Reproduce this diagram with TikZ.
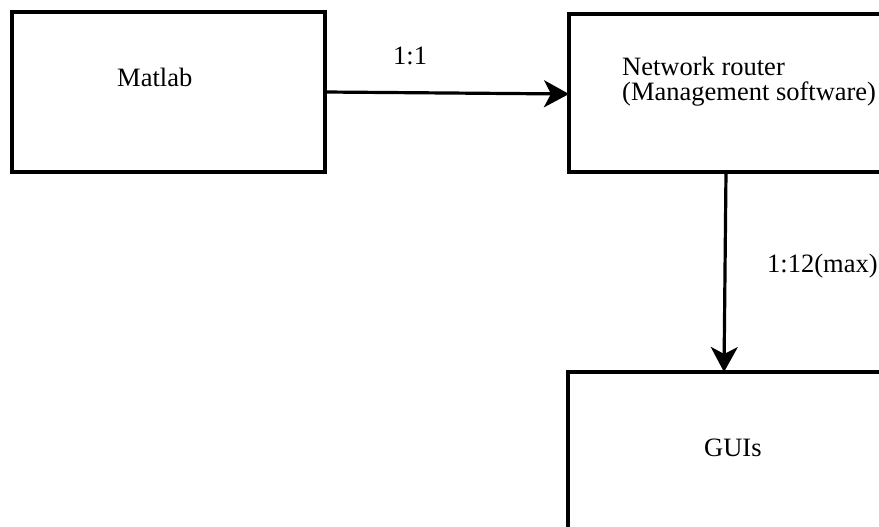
\documentclass[tikz,border=0pt]{standalone}
\usepackage{fontspec}
\setmainfont{Liberation Serif}
\usetikzlibrary{arrows.meta}
\begin{document}
\begin{tikzpicture}[x=1pt,y=-1pt,
  box/.style={draw=black,line width=3.2pt,fill=none},
  txt/.style={font=\fontsize{26.5}{26}\selectfont,inner sep=0pt,anchor=base west},
  conn/.style={line width=3.2pt,-{Stealth[length=25pt,width=27pt,inset=7pt]}}]
\useasboundingbox (0,0) rectangle (879,527);
\clip (0,0) rectangle (879,527);
\fill[white] (0,0) rectangle (879,527);
\draw[box] (12,12) rectangle (325,172);
\coordinate (mR) at (325,92);
\draw[box] (569,14) rectangle (884,172);
\coordinate (rL) at (569,94);
\coordinate (rB) at (726,172);
\draw[box] (568,372) rectangle (884,540);
\coordinate (gT) at (724,372);
\node[txt] (matlab) at (117,87) {Matlab};
\node[txt] (router1) at (622,76) {Network router};
\node[txt] (router2) at (622,101) {(Management software)};
\node[txt] (gui) at (704,456) {GUIs};
\node[txt] (l11) at (393,65) {1:1};
\node[txt] (l112) at (767,272) {1:12(max)};
\draw[conn] (mR) -- (rL);
\draw[conn] (rB) -- (gT);
\end{tikzpicture}
\end{document}
